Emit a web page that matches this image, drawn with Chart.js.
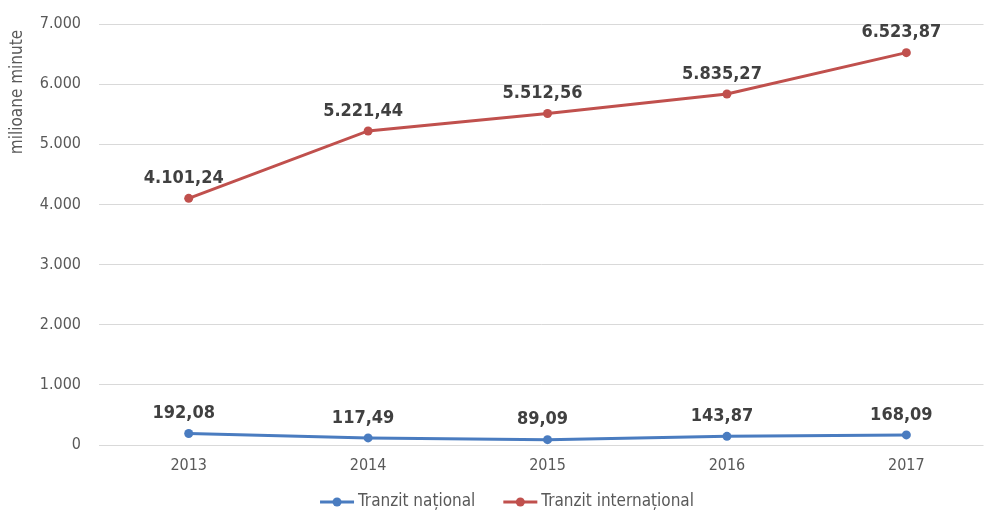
<!DOCTYPE html>
<html>
<head>
<meta charset="utf-8">
<script src="https://cdn.jsdelivr.net/npm/chart.js@4/dist/chart.umd.min.js"></script>
<style>
html,body{margin:0;padding:0;background:#fff;}
#wrap{width:988px;height:512px;}
</style>
</head>
<body>
<div id="wrap"><canvas id="c" width="988" height="512"></canvas></div>
<script>
const years = [2013, 2014, 2015, 2016, 2017];
const tranzitNational = [192.08, 117.49, 89.09, 143.87, 168.09];
const tranzitInternational = [4101.24, 5221.44, 5512.56, 5835.27, 6523.87];
const seriesNames = ['Tranzit național', 'Tranzit internațional'];
const yTicks = [0, 1000, 2000, 3000, 4000, 5000, 6000, 7000];
const yTitle = 'milioane minute';

const FONT = '"DejaVu Sans Condensed", "DejaVu Sans", sans-serif';
const BLUE = '#4A7CC0';
const RED = '#C0504D';
const TEXT = '#595959';

function fmtThousands(intStr) {
  return intStr.replace(/\B(?=(\d{3})+(?!\d))/g, '.');
}
function fmtValue(v) {
  const [i, d] = v.toFixed(2).split('.');
  return fmtThousands(i) + ',' + d;
}

const labelPlugin = {
  id: 'valueLabels',
  afterDatasetsDraw(chart) {
    const ctx = chart.ctx;
    ctx.save();
    ctx.font = 'bold 18px ' + FONT;
    ctx.fillStyle = '#404040';
    ctx.textAlign = 'center';
    ctx.textBaseline = 'middle';
    chart.data.datasets.forEach((ds, di) => {
      const meta = chart.getDatasetMeta(di);
      meta.data.forEach((pt, i) => {
        ctx.fillText(fmtValue(ds.data[i].y), pt.x - 5, pt.y - 20);
      });
    });
    ctx.restore();
  }
};

const titlePlugin = {
  id: 'yTitle',
  afterDraw(chart) {
    const ctx = chart.ctx;
    ctx.save();
    ctx.font = '17px ' + FONT;
    ctx.fillStyle = TEXT;
    ctx.textAlign = 'center';
    ctx.textBaseline = 'middle';
    ctx.translate(18, 92);
    ctx.rotate(-Math.PI / 2);
    ctx.fillText(yTitle, 0, 0);
    ctx.restore();
  }
};

const legendPlugin = {
  id: 'customLegend',
  afterDraw(chart) {
    const ctx = chart.ctx;
    ctx.save();
    ctx.font = '17px ' + FONT;
    ctx.textBaseline = 'middle';
    ctx.textAlign = 'left';
    const y = 502, lineW = 34, gapText = 4, gapItem = 28;
    const ds = chart.data.datasets;
    const widths = ds.map(d => lineW + gapText + ctx.measureText(d.label).width);
    const total = widths.reduce((a, b) => a + b, 0) + gapItem * (ds.length - 1);
    let x = 507 - total / 2;
    ds.forEach((d, i) => {
      ctx.strokeStyle = d.borderColor;
      ctx.lineWidth = 3;
      ctx.beginPath(); ctx.moveTo(x, y); ctx.lineTo(x + lineW, y); ctx.stroke();
      ctx.fillStyle = d.borderColor;
      ctx.beginPath(); ctx.arc(x + lineW / 2, y, 4.5, 0, Math.PI * 2); ctx.fill();
      ctx.fillStyle = TEXT;
      ctx.fillText(d.label, x + lineW + gapText, y);
      x += widths[i] + gapItem;
    });
    ctx.restore();
  }
};

new Chart(document.getElementById('c'), {
  type: 'line',
  data: {
    datasets: [
      {
        label: seriesNames[0],
        data: years.map((y, i) => ({ x: y, y: tranzitNational[i] })),
        borderColor: BLUE, backgroundColor: BLUE,
        borderWidth: 3, pointRadius: 4.5, pointHoverRadius: 4.5,
        pointBackgroundColor: BLUE, pointBorderWidth: 0,
        pointStyle: 'circle', tension: 0
      },
      {
        label: seriesNames[1],
        data: years.map((y, i) => ({ x: y, y: tranzitInternational[i] })),
        borderColor: RED, backgroundColor: RED,
        borderWidth: 3, pointRadius: 4.5, pointHoverRadius: 4.5,
        pointBackgroundColor: RED, pointBorderWidth: 0,
        pointStyle: 'circle', tension: 0
      }
    ]
  },
  options: {
    responsive: false,
    animation: false,
    devicePixelRatio: 1,
    layout: { padding: { top: 24, right: 0, bottom: 30, left: 0 } },
    scales: {
      x: {
        type: 'linear',
        min: 2012.5,
        max: 2017.43,
        grid: { display: false, drawTicks: false },
        border: { display: false },
        afterBuildTicks(axis) { axis.ticks = years.map(v => ({ value: v })); },
        afterFit(axis) { axis.height = 37; },
        ticks: {
          padding: 11,
          color: TEXT,
          font: { family: FONT, size: 16 },
          autoSkip: false,
          maxRotation: 0,
          callback: v => String(v)
        }
      },
      y: {
        min: 0, max: 7000,
        afterBuildTicks(axis) { axis.ticks = yTicks.map(v => ({ value: v })); },
        afterFit(axis) { axis.width = 99; },
        grid: { color: '#D9D9D9', lineWidth: 1, drawTicks: true, tickLength: 11, tickColor: 'rgba(0,0,0,0)' },
        border: { display: false },
        ticks: {
          padding: 7,
          color: TEXT,
          font: { family: FONT, size: 16 },
          callback: v => fmtThousands(String(v))
        }
      }
    },
    plugins: {
      legend: { display: false },
      tooltip: { enabled: false }
    }
  },
  plugins: [labelPlugin, titlePlugin, legendPlugin]
});
</script>
</body>
</html>
